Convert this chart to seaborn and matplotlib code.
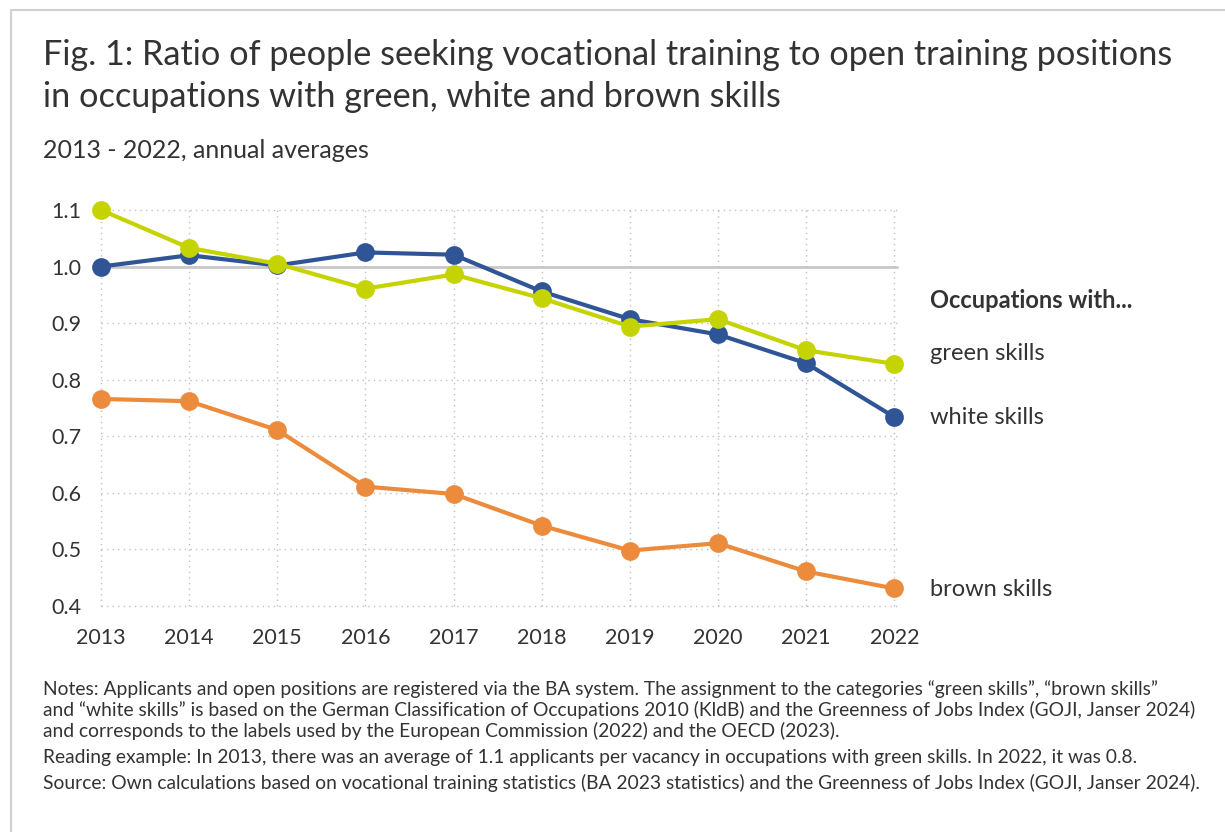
import matplotlib
matplotlib.use("Agg")
import matplotlib.pyplot as plt
import seaborn as sns
import pandas as pd

years = [2013, 2014, 2015, 2016, 2017, 2018, 2019, 2020, 2021, 2022]
white_skills = [1.00, 1.02, 1.002, 1.025, 1.021, 0.956, 0.907, 0.880, 0.829, 0.734]
green_skills = [1.10, 1.033, 1.005, 0.961, 0.986, 0.944, 0.894, 0.907, 0.852, 0.828]
brown_skills = [0.766, 0.762, 0.711, 0.611, 0.598, 0.542, 0.498, 0.511, 0.461, 0.431]
series_names = ["brown skills", "white skills", "green skills"]
y_ticks = [0.4, 0.5, 0.6, 0.7, 0.8, 0.9, 1.0, 1.1]

colors = {"green skills": "#c5d300", "white skills": "#2f5597", "brown skills": "#ed8b3c"}

df = pd.concat([
    pd.DataFrame({"year": years, "value": brown_skills, "series": "brown skills"}),
    pd.DataFrame({"year": years, "value": white_skills, "series": "white skills"}),
    pd.DataFrame({"year": years, "value": green_skills, "series": "green skills"}),
])

sns.set_theme(style="white")
plt.rcParams["font.family"] = ["Lato", "DejaVu Sans"]

W, H = 1225, 832
fig = plt.figure(figsize=(W / 100, H / 100), dpi=100)
ax = fig.add_axes([101 / W, 1 - 606 / H, (897 - 101) / W, (606 - 210) / H])

# grid
for yv in y_ticks:
    if abs(yv - 1.0) < 1e-9:
        ax.axhline(yv, color="#c8c8c8", lw=2, zorder=1)
    else:
        ax.axhline(yv, color="#c0c0c0", lw=1, ls=(0, (1, 3)), zorder=1)
for xv in years:
    ax.axvline(xv, color="#c0c0c0", lw=1, ls=(0, (1, 3)), zorder=1)

sns.lineplot(data=df, x="year", y="value", hue="series", hue_order=series_names,
             palette=colors, marker="o", markersize=13.5, markeredgewidth=0,
             linewidth=3, ax=ax, legend=False, clip_on=False, zorder=3)
for line in ax.get_lines():
    line.set_clip_on(False)

ax.set_xlim(2013, 2022.03)
ax.set_ylim(0.4, 1.1)
ax.set_xticks(years)
ax.set_xticklabels([str(y) for y in years])
ax.set_yticks(y_ticks)
ax.set_yticklabels([f"{v:.1f}" for v in y_ticks])
ax.tick_params(axis="both", length=0, labelsize=15.5, colors="#333333")
ax.tick_params(axis="x", pad=16)
ax.tick_params(axis="y", pad=14)
ax.set_xlabel("")
ax.set_ylabel("")
for s in ax.spines.values():
    s.set_visible(False)

# right labels
lab_x = 930 / W
fig.text(lab_x, 1 - 300 / H, "Occupations with...", fontsize=17, fontweight="bold",
         color="#333333", va="center", ha="left")
for txt, yy in [("green skills", 353), ("white skills", 418), ("brown skills", 589)]:
    fig.text(lab_x, 1 - yy / H, txt, fontsize=17, color="#333333", va="center", ha="left")

# title and subtitle
fig.text(43 / W, 1 - 55 / H, "Fig. 1: Ratio of people seeking vocational training to open training positions",
         fontsize=24.7, color="#333333", va="center", ha="left")
fig.text(43 / W, 1 - 97 / H, "in occupations with green, white and brown skills",
         fontsize=24.7, color="#333333", va="center", ha="left")
fig.text(43 / W, 1 - 150 / H, "2013 - 2022, annual averages",
         fontsize=18, color="#333333", va="center", ha="left")

notes = [
    ("Notes: Applicants and open positions are registered via the BA system. The assignment to the categories \u201cgreen skills\u201d, \u201cbrown skills\u201d", 689),
    ("and \u201cwhite skills\u201d is based on the German Classification of Occupations 2010 (KldB) and the Greenness of Jobs Index (GOJI, Janser 2024)", 710),
    ("and corresponds to the labels used by the European Commission (2022) and the OECD (2023).", 731),
    ("Reading example: In 2013, there was an average of 1.1 applicants per vacancy in occupations with green skills. In 2022, it was 0.8.", 757),
    ("Source: Own calculations based on vocational training statistics (BA 2023 statistics) and the Greenness of Jobs Index (GOJI, Janser 2024).", 783),
]
for txt, yy in notes:
    fig.text(43 / W, 1 - yy / H, txt, fontsize=13.9, color="#333333", va="center", ha="left")

# frame lines (top and left)
fig.add_artist(plt.Line2D([11 / W, 1], [1 - 10 / H, 1 - 10 / H], color="#d0d0d0", lw=1.5))
fig.add_artist(plt.Line2D([11 / W, 11 / W], [0, 1 - 10 / H], color="#d0d0d0", lw=1.5))

fig.savefig("out.png", dpi=100)
